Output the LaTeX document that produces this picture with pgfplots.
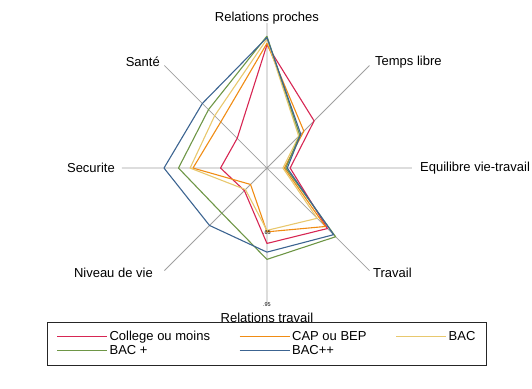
\documentclass[border=0pt]{standalone}
\usepackage{pgfplots}
\pgfplotsset{compat=1.18}
\usepackage{fontspec}
\setmainfont{Liberation Sans}
\definecolor{cRed}{RGB}{215,38,83}
\definecolor{cOrange}{RGB}{240,140,20}
\definecolor{cYellow}{RGB}{232,200,110}
\definecolor{cGreen}{RGB}{110,150,70}
\definecolor{cBlue}{RGB}{60,100,145}
\definecolor{spoke}{RGB}{160,160,160}
\begin{document}
\begin{tikzpicture}
\path[use as bounding box] (0,0) rectangle (532pt,388pt);
\begin{axis}[
  at={(0,0)}, anchor=south west,
  scale only axis, width=532pt, height=388pt,
  xmin=-1.841, xmax=1.828, ymin=-1.517, ymax=1.159,
  hide axis, clip=false,
  legend columns=3,
  legend cell align=left,
  legend image code/.code={\draw[#1, line width=1.1pt] plot coordinates {(0pt,0pt) (25pt,0pt) (50pt,0pt)};},
  legend style={at={(axis cs:0,-1.062)}, anchor=north, draw=black!85, line width=0.8pt,
    font=\fontsize{13}{15}\selectfont, inner xsep=9pt, inner ysep=7pt,
    /tikz/every even column/.append style={column sep=27pt},
    row sep=-1pt},
  every axis plot/.append style={line width=1.1pt, line join=round},
]
% spokes
\addplot[draw=spoke, line width=0.8pt, forget plot, data cs=polar] coordinates {(90,1) (0,0) (45,1)};
\addplot[draw=spoke, line width=0.8pt, forget plot, data cs=polar] coordinates {(0,1) (0,0) (-45,1)};
\addplot[draw=spoke, line width=0.8pt, forget plot, data cs=polar] coordinates {(-90,0.93) (0,0) (-135,1)};
\addplot[draw=spoke, line width=0.8pt, forget plot, data cs=polar] coordinates {(180,1) (0,0) (135,1)};
% series (angle, radius as fraction of spoke length)
\addplot[draw=cRed, data cs=polar] coordinates {(90,0.85) (45,0.46) (0,0.16) (-45,0.59) (-90,0.52) (-135,0.22) (180,0.32) (135,0.29) (90,0.85)};
\addlegendentry{College ou moins}
\addplot[draw=cOrange, data cs=polar] coordinates {(90,0.86) (45,0.36) (0,0.12) (-45,0.57) (-90,0.44) (-135,0.16) (180,0.51) (135,0.45) (90,0.86)};
\addlegendentry{CAP ou BEP}
\addplot[draw=cYellow, data cs=polar] coordinates {(90,0.89) (45,0.31) (0,0.11) (-45,0.49) (-90,0.43) (-135,0.21) (180,0.53) (135,0.51) (90,0.89)};
\addlegendentry{BAC}
\addplot[draw=cGreen, data cs=polar] coordinates {(90,0.91) (45,0.32) (0,0.13) (-45,0.67) (-90,0.63) (-135,0.44) (180,0.61) (135,0.57) (90,0.91)};
\addlegendentry{BAC +}
\addplot[draw=cBlue, data cs=polar] coordinates {(90,0.90) (45,0.33) (0,0.14) (-45,0.65) (-90,0.58) (-135,0.56) (180,0.71) (135,0.63) (90,0.90)};
\addlegendentry{BAC++}
% labels
\begin{scope}[every node/.style={font=\fontsize{13}{15}\selectfont, inner sep=0pt}]
\node[anchor=center] at (axis cs:0,1.034) {Relations proches};
\node[anchor=west] at (axis cs:0.745,0.731) {Temps libre};
\node[anchor=west] at (axis cs:1.055,0) {Equilibre vie-travail};
\node[anchor=west] at (axis cs:0.731,-0.724) {Travail};
\node[anchor=center] at (axis cs:0,-1.034) {Relations travail};
\node[anchor=east] at (axis cs:-0.786,-0.724) {Niveau de vie};
\node[anchor=east] at (axis cs:-1.048,0) {Securite};
\node[anchor=east] at (axis cs:-0.738,0.731) {Santé};
\end{scope}
\node[font=\fontsize{5.5}{6}\selectfont, inner sep=0pt] at (axis cs:0,-0.448) {.65};
\node[font=\fontsize{5.5}{6}\selectfont, inner sep=0pt] at (axis cs:0,-0.945) {.95};
\end{axis}
\end{tikzpicture}
\end{document}
